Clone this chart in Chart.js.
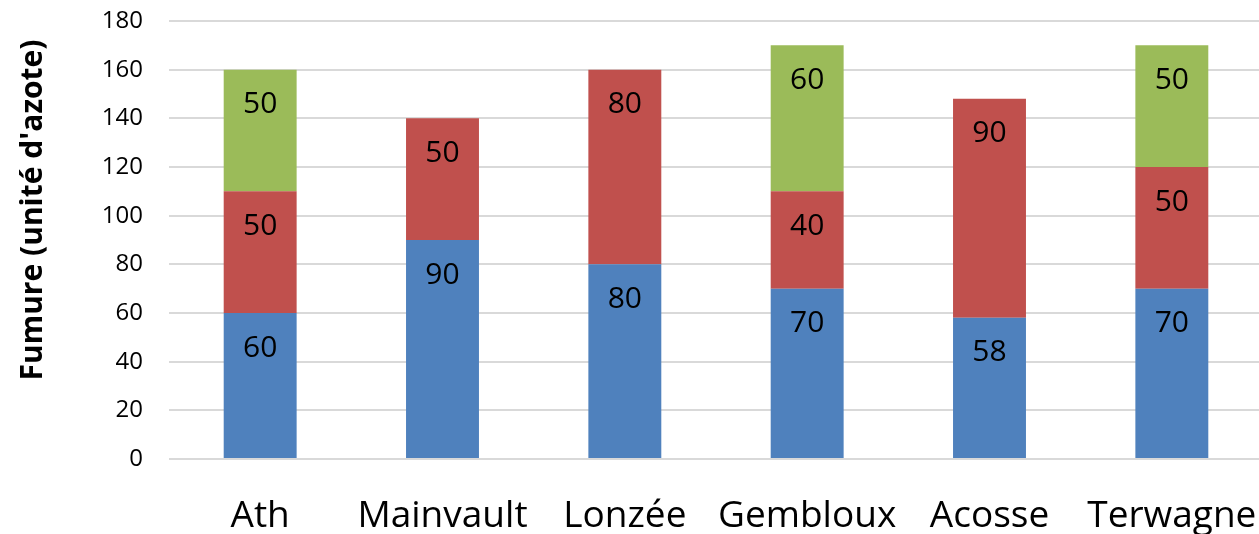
<!DOCTYPE html>
<html>
<head>
<meta charset="utf-8">
<script src="https://cdn.jsdelivr.net/npm/chart.js@4/dist/chart.umd.min.js"></script>
<style>
  html, body { margin: 0; padding: 0; background: #fff; overflow: hidden; }
  #wrap { width: 1264px; height: 534px; }
</style>
</head>
<body>
<div id="wrap"><canvas id="chart" width="1264" height="534"></canvas></div>
<script>
const sites = ["Ath", "Mainvault", "Lonzée", "Gembloux", "Acosse", "Terwagne"];
const blueValues = [60, 90, 80, 70, 58, 70];
const redValues = [50, 50, 80, 40, 90, 50];
const greenValues = [50, null, null, 60, null, 50];
const yTitle = "Fumure (unité d'azote)";

const FONT = "'Open Sans', 'DejaVu Sans', sans-serif";

//draws the value of each segment near its top
const barLabels = {
  id: "barLabels",
  afterDatasetsDraw(chart) {
    const ctx = chart.ctx;
    ctx.save();
    ctx.fillStyle = "#000";
    ctx.font = "30px " + FONT;
    ctx.textAlign = "center";
    ctx.textBaseline = "middle";
    chart.data.datasets.forEach((ds, i) => {
      chart.getDatasetMeta(i).data.forEach((bar, j) => {
        const v = ds.data[j];
        if (!v) return;
        ctx.fillText(String(v), bar.x, bar.y + 35);
      });
    });
    ctx.restore();
  }
};

//y axis title, placed like the original
const axisTitle = {
  id: "axisTitle",
  afterDraw(chart) {
    const ctx = chart.ctx;
    ctx.save();
    ctx.translate(33, 210);
    ctx.rotate(-Math.PI / 2);
    ctx.fillStyle = "#000";
    ctx.font = "bold 30px " + FONT;
    ctx.textAlign = "center";
    ctx.textBaseline = "middle";
    ctx.fillText(yTitle, 0, 0);
    ctx.restore();
  }
};

new Chart(document.getElementById("chart"), {
  type: "bar",
  data: {
    labels: sites,
    datasets: [
      { label: "1", data: blueValues, backgroundColor: "#4F81BD" },
      { label: "2", data: redValues, backgroundColor: "#C0504D" },
      { label: "3", data: greenValues, backgroundColor: "#9BBB59" }
    ]
  },
  options: {
    responsive: false,
    animation: false,
    layout: { padding: { top: 21, right: 1, bottom: 0, left: 0 } },
    datasets: { bar: { categoryPercentage: 1, barPercentage: 0.4, borderWidth: 0 } },
    plugins: { legend: { display: false }, tooltip: { enabled: false } },
    scales: {
      x: {
        stacked: true,
        grid: { display: false, drawTicks: false },
        border: { display: false },
        ticks: { color: "#000", font: { family: FONT, size: 37 }, padding: 35, maxRotation: 0 },
        afterFit: (s) => { s.height = 75; s.paddingLeft = 0; s.paddingRight = 0; }
      },
      y: {
        stacked: true,
        min: 0,
        max: 180,
        ticks: { stepSize: 20, color: "#000", font: { family: FONT, size: 24 }, padding: 26 },
        grid: { color: "#d9d9d9", lineWidth: 2, drawTicks: false },
        border: { display: false },
        afterFit: (s) => { s.width = 169; s.paddingTop = 0; s.paddingBottom = 0; }
      }
    }
  },
  plugins: [barLabels, axisTitle]
});
</script>
</body>
</html>
